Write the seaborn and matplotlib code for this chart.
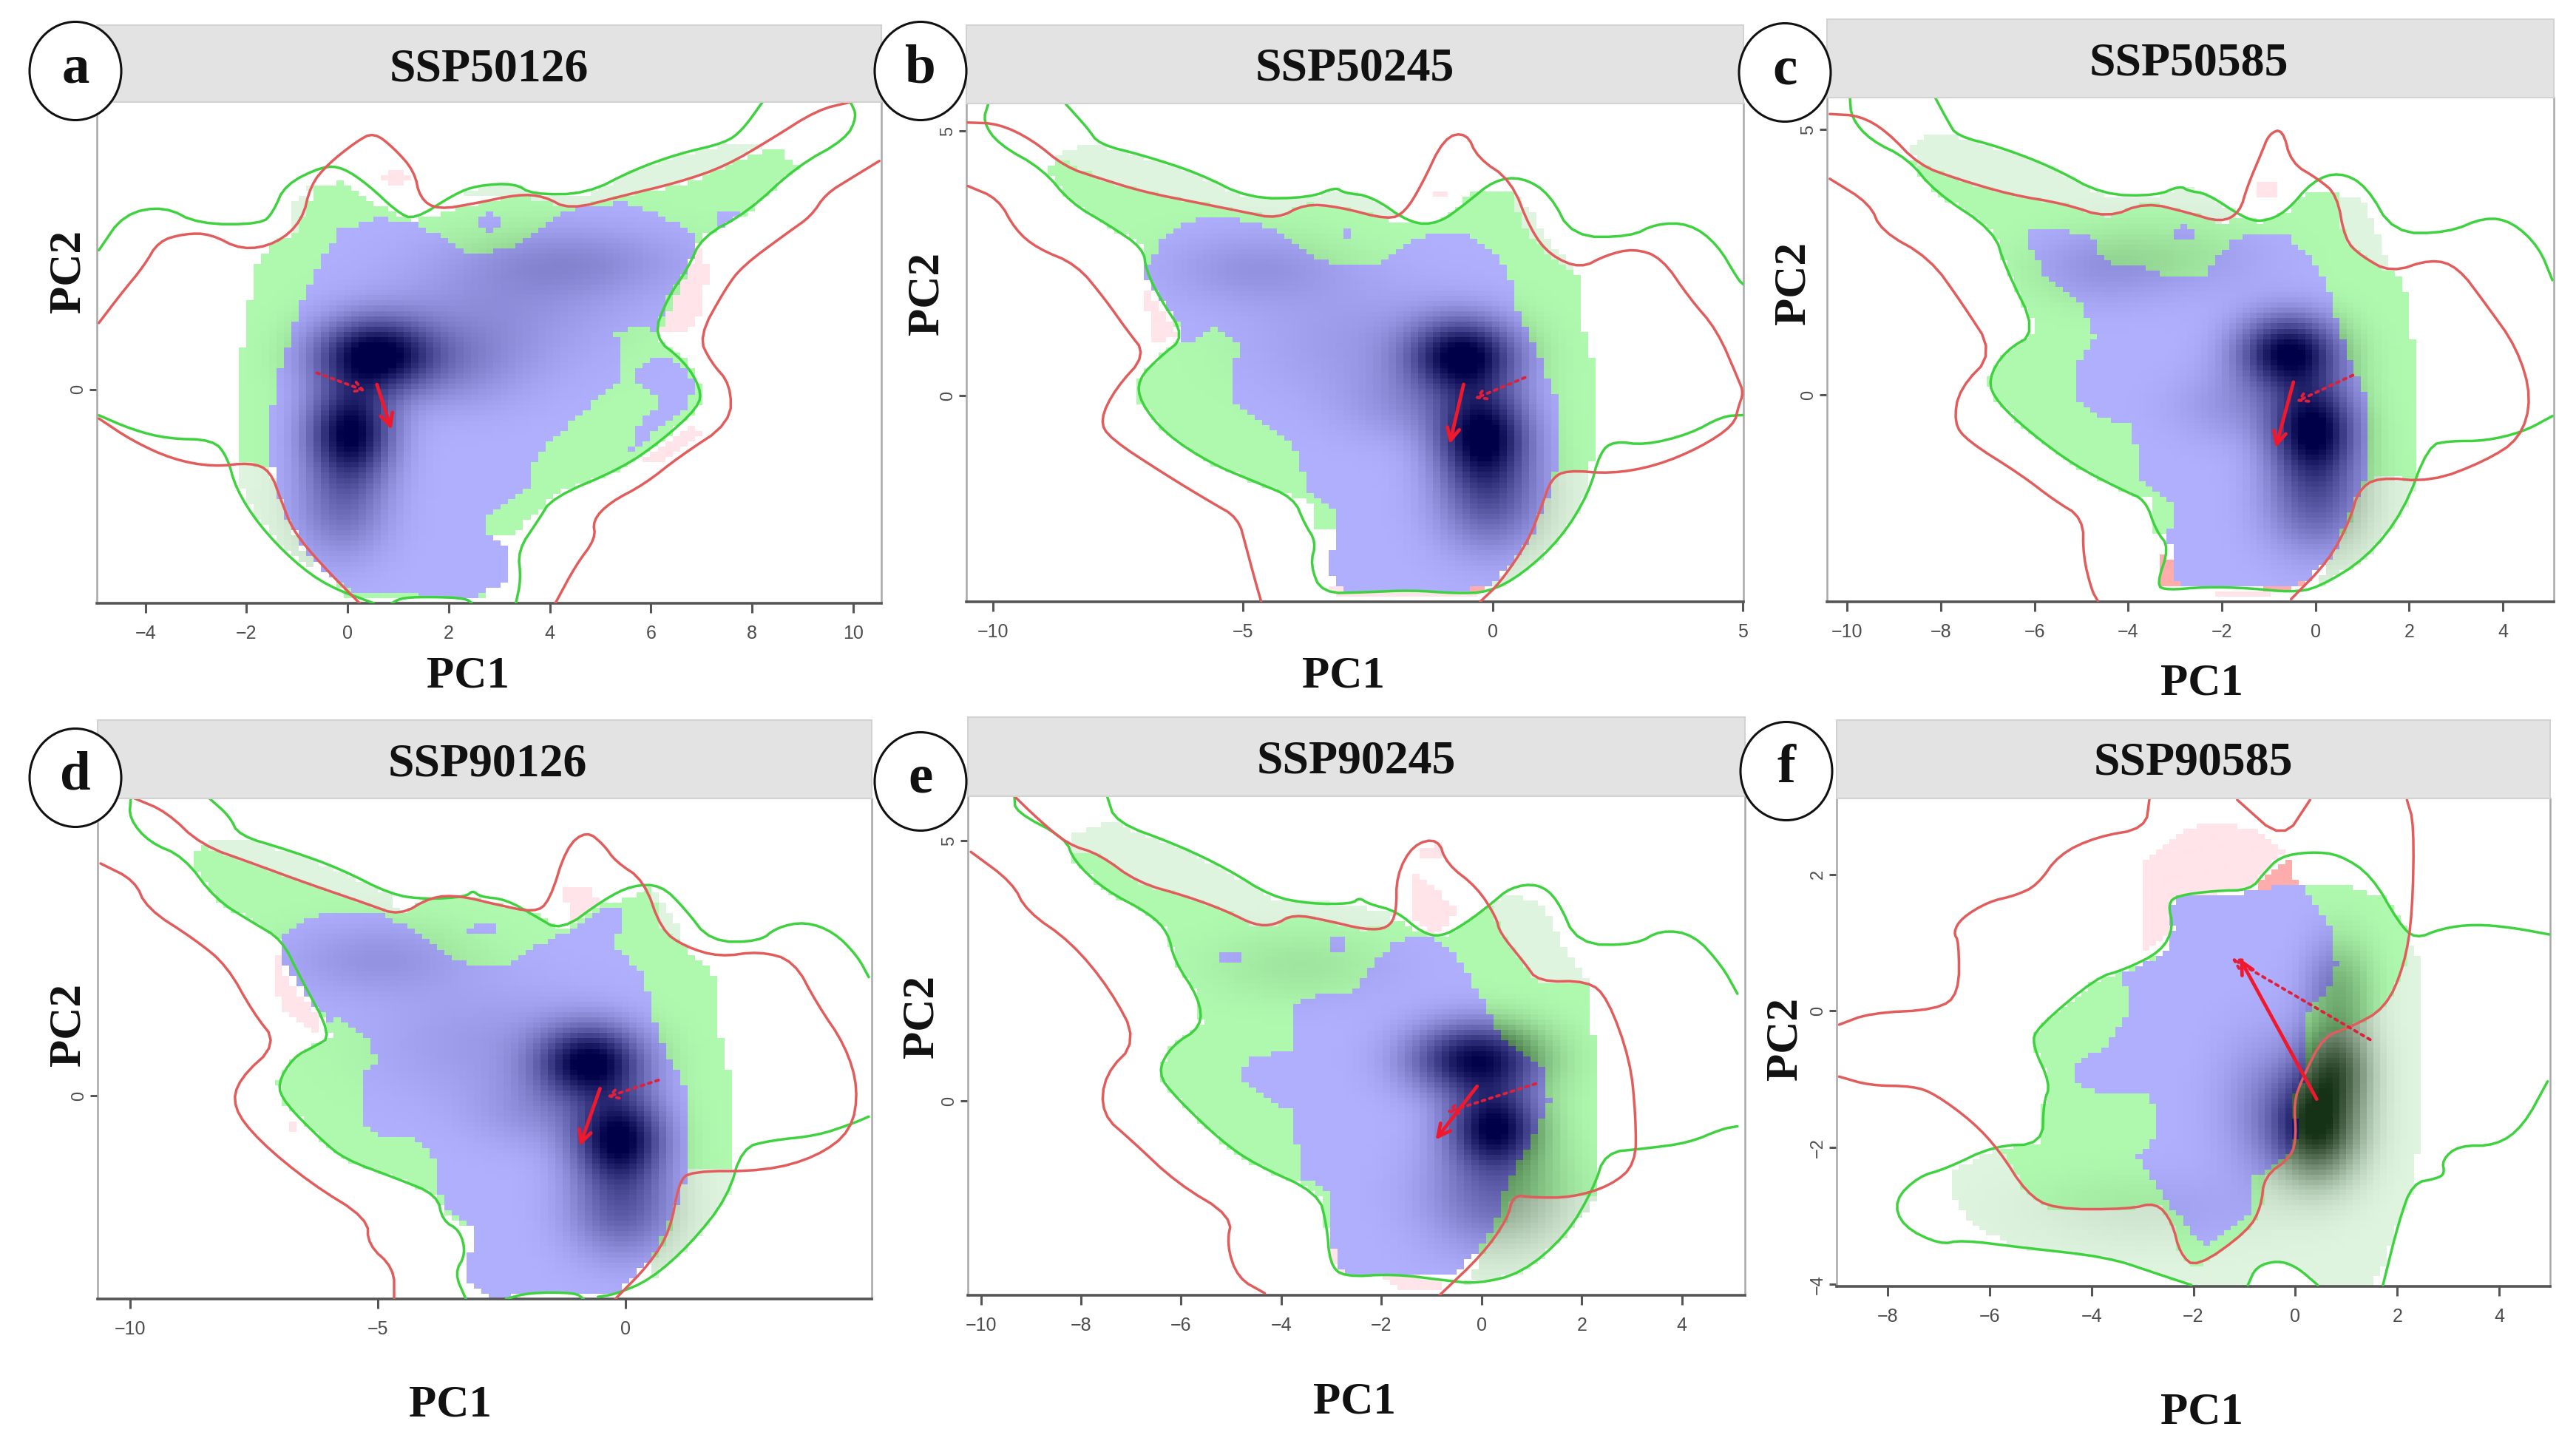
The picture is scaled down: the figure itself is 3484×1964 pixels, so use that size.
import numpy as np
import matplotlib
matplotlib.use("Agg")
import matplotlib.pyplot as plt
import seaborn as sns
from matplotlib.path import Path
from matplotlib.patches import Rectangle, Ellipse

sns.set_theme(style="white")
plt.rcParams['font.family'] = ['Liberation Serif', 'DejaVu Serif']

W, H = 3484, 1964

# --- values, PC1/PC2 units ---
titles = ["SSP50126", "SSP50245", "SSP50585", "SSP90126", "SSP90245", "SSP90585"]
letters = ["a", "b", "c", "d", "e", "f"]
xticks = [[-4, -2, 0, 2, 4, 6, 8, 10], [-10, -5, 0, 5], [-10, -8, -6, -4, -2, 0, 2, 4],
          [-10, -5, 0], [-10, -8, -6, -4, -2, 0, 2, 4], [-8, -6, -4, -2, 0, 2, 4]]
yticks = [[0], [0, 5], [0, 5], [0], [0, 5], [-4, -2, 0, 2]]
xlims = [(-4.96, 10.56), (-10.53, 5.02), (-10.43, 5.09), (-10.66, 4.98), (-10.26, 5.26), (-9.0, 5.0)]
ylims = [(-4.03, 5.41), (-3.90, 5.52), (-3.90, 5.60), (-3.84, 5.63), (-3.74, 5.86), (-4.03, 3.11)]

# panel a
a_green = [
    [(-4.92,2.62),(-4.43,3.30),(-3.63,3.45),(-2.95,3.11),(-1.70,3.11),(-1.47,3.34),(-1.24,3.85),(-0.50,4.20),(-0.10,4.18),(0.41,3.85),(0.98,3.34),(1.32,3.19),(2.12,3.68),(2.57,3.84),(3.31,3.88),(3.65,3.67),(4.73,3.68),(5.65,4.13),(6.56,4.44),(7.47,4.64),(7.81,4.88),(8.21,5.41)],
    [(9.95,5.41),(10.08,5.14),(9.86,4.71),(8.89,4.20),(7.92,3.34),(7.01,2.87),(6.73,2.27),(6.33,1.72),(6.04,0.99),(6.67,0.52),(6.99,0.01),(6.95,-0.33),(6.21,-0.97),(5.42,-1.49),(4.05,-2.04),(3.77,-2.47),(3.37,-3.03),(3.43,-3.58),(3.33,-4.03)],
    [(-4.92,-0.49),(-4.26,-0.76),(-3.57,-0.93),(-2.66,-0.95),(-2.38,-1.27),(-2.21,-1.87),(-1.75,-2.56),(-1.07,-3.24),(-0.39,-3.71),(0.52,-4.03)],
    [(0.87,-4.03),(1.09,-3.92),(1.78,-3.91),(2.34,-3.94),(2.46,-4.03)],
]
a_red = [
    [(-4.92,1.25),(-4.48,1.80),(-4.03,2.32),(-3.74,2.79),(-3.23,2.93),(-2.72,2.93),(-2.09,2.62),(-1.41,2.74),(-0.90,3.17),(-0.73,3.85),(-0.39,4.24),(0.18,4.67),(0.52,4.84),(0.92,4.54),(1.32,4.11),(1.43,3.60),(1.78,3.38),(2.57,3.51),(3.37,3.67),(3.88,3.64),(4.39,3.38),(5.42,3.64),(6.56,3.90),(7.47,4.20),(8.38,4.71),(9.29,5.26),(9.95,5.41)],
    [(10.52,4.30),(9.97,3.98),(9.46,3.68),(9.17,3.26),(8.72,2.96),(7.81,2.32),(7.47,1.89),(6.95,0.99),(7.18,0.52),(7.58,0.09),(7.58,-0.63),(6.56,-1.27),(5.87,-1.79),(5.19,-2.13),(4.85,-2.47),(4.91,-2.81),(4.51,-3.32),(4.11,-4.03)],
    [(-4.92,-0.55),(-4.26,-0.97),(-3.46,-1.32),(-2.66,-1.46),(-1.92,-1.38),(-1.53,-1.53),(-1.30,-2.13),(-1.07,-2.68),(-0.50,-3.32),(0.24,-4.03)],
]
a_fill_green = [[(-2.15,-1.36),(-2.15,0.56),(-1.98,1.12),(-1.87,2.23),(-1.53,2.74),(-1.07,2.91),(-0.79,3.43),(-0.61,3.85),(-0.05,3.90),(0.52,3.51),(1.26,3.17),(2.12,3.38),(3.37,3.67),(4.39,3.41),(5.65,3.67),(6.78,3.90),(7.81,4.37),(8.49,4.58),(8.89,4.20),(7.92,3.34),(7.01,2.87),(6.10,0.99),(6.78,0.44),(6.99,0.01),(6.95,-0.33),(6.21,-0.97),(5.42,-1.49),(4.05,-2.00),(3.77,-2.30),(3.26,-2.73),(2.80,-2.73),(2.80,-3.92),(-0.05,-3.92),(-1.41,-1.53)]]
a_fill_pale = [
    [(-2.15,-1.36),(-1.92,-1.38),(-1.53,-1.53),(-1.30,-2.13),(-0.95,-2.95),(-0.50,-3.42),(-1.12,-3.14),(-1.75,-2.48),(-2.10,-1.87)],
    [(2.12,3.64),(2.57,3.81),(3.31,3.85),(3.65,3.64),(4.73,3.67),(5.65,4.11),(6.56,4.41),(7.47,4.62),(8.26,4.64),(7.47,4.20),(6.56,3.90),(5.42,3.64),(4.39,3.41),(3.37,3.67)],
    [(-1.07,3.51),(-0.73,3.85),(-0.79,3.43),(-1.07,2.91)],
]
a_fill_blue = [
    [(-1.53,-1.36),(-1.53,-0.59),(-1.41,0.26),(-1.24,0.69),(-0.84,1.80),(-0.50,2.49),(-0.16,3.00),(0.52,3.21),(1.32,3.17),(2.34,2.57),(3.14,2.62),(4.39,3.38),(5.42,3.51),(6.21,3.26),(6.95,2.87),(6.73,2.32),(6.33,1.72),(6.10,1.12),(5.65,1.16),(5.28,1.08),(5.47,0.26),(4.96,-0.16),(4.05,-0.93),(3.60,-1.44),(3.54,-1.87),(2.80,-2.38),(2.80,-2.73),(3.12,-2.98),(3.12,-3.58),(2.57,-3.92),(0.18,-3.84),(-0.67,-3.24),(-1.30,-2.30),(-1.43,-1.53)],
    [(5.59,0.26),(6.10,0.65),(6.56,0.52),(6.84,0.09),(6.67,-0.42),(5.99,-0.85),(5.47,-1.36),(5.76,-0.68),(6.21,-0.16)],
    [(2.52,3.13),(2.80,3.30),(3.12,3.13),(2.80,2.93)],
    [(7.30,3.26),(7.58,3.41),(7.81,3.34),(7.35,3.04)],
]
a_fill_pink = [
    [(0.64,3.98),(0.92,4.15),(1.23,3.98),(0.92,3.81)],
    [(6.95,2.66),(7.13,2.23),(7.01,1.46),(6.67,1.08),(6.10,1.03),(6.44,1.72),(6.78,2.32)],
    [(6.90,-0.59),(6.95,-0.85),(6.21,-1.36),(5.76,-1.44),(6.33,-0.97)],
    [(0.18,-3.75),(0.98,-3.88),(0.18,-3.92)],
]
a_fill_rose = []
a_core = [(0.5,0.65,1.0,0.75,0.5),(0.05,-0.8,1.0,0.55,0.65),(-0.1,-2.2,0.35,0.6,0.7),(4.5,2.4,0.2,1.4,0.5),(3.0,1.5,0.15,1.5,0.8),(2.0,0.5,0.22,1.0,0.6)]
a_solid = [(0.58,0.09),(0.87,-0.76)]
a_dotted = [(-0.61,0.31),(0.35,-0.03)]

# panel b
b_green = [
    [(-8.55,5.52),(-8.10,5.05),(-7.88,4.75),(-6.99,4.54),(-5.88,4.20),(-4.87,3.72),(-3.65,3.74),(-3.14,3.94),(-2.98,3.83),(-2.42,3.77),(-1.64,3.25),(-1.08,3.25),(-0.52,3.64),(0.03,4.07),(0.59,4.13),(1.15,3.81),(1.59,3.00),(2.76,3.00),(3.27,3.25),(3.94,3.25),(4.49,2.87),(4.92,2.18),(5.02,2.10)],
    [(-10.09,5.52),(-10.20,5.18),(-9.89,4.75),(-9.00,4.28),(-8.44,3.64),(-7.66,3.21),(-6.99,2.78),(-6.93,2.36),(-6.66,1.84),(-6.15,1.11),(-6.66,0.73),(-7.10,0.30),(-7.05,-0.13),(-6.54,-0.73),(-5.65,-1.28),(-4.76,-1.63),(-3.98,-1.93),(-3.76,-2.43),(-3.53,-2.77),(-3.65,-3.20),(-3.42,-3.74),(-2.53,-3.72),(-1.64,-3.68),(-0.75,-3.74),(-0.08,-3.72),(0.59,-3.38),(1.37,-2.70),(1.93,-1.84),(2.15,-1.07),(2.43,-0.86),(3.04,-0.94),(3.94,-0.73),(4.60,-0.39),(5.02,-0.37)],
]
b_red = [
    [(-10.50,5.16),(-9.89,5.14),(-9.22,4.84),(-8.55,4.32),(-7.88,4.11),(-6.99,3.85),(-5.88,3.64),(-4.98,3.47),(-4.31,3.34),(-3.76,3.62),(-3.09,3.57),(-2.08,3.32),(-1.75,3.47),(-1.42,3.98),(-0.97,4.88),(-0.52,4.97),(-0.30,4.49),(0.37,4.07),(0.76,3.13),(1.15,2.65),(1.76,2.40),(2.26,2.65),(2.82,2.78),(3.38,2.61),(3.94,1.84),(4.49,1.24),(4.92,0.30),(5.02,0.05),(4.92,-0.21),(4.83,-0.56),(4.16,-0.98),(3.27,-1.33),(2.37,-1.48),(1.48,-1.41),(1.17,-1.58),(0.98,-2.10),(0.70,-2.78),(0.14,-3.55),(-0.25,-3.90)],
    [(-10.50,3.96),(-9.89,3.72),(-9.55,3.13),(-9.11,2.78),(-8.33,2.48),(-7.77,1.84),(-7.32,1.24),(-6.93,0.77),(-7.55,0.13),(-7.86,-0.47),(-7.66,-0.81),(-6.54,-1.50),(-5.65,-2.01),(-5.09,-2.31),(-4.93,-2.87),(-4.76,-3.47),(-4.63,-3.90)],
]
b_fill_green = [[(-8.94,4.28),(-8.72,4.49),(-7.88,4.11),(-6.99,3.85),(-5.88,3.64),(-4.31,3.34),(-3.76,3.62),(-3.09,3.57),(-2.08,3.32),(-1.64,3.25),(-1.08,3.25),(-0.41,3.81),(0.37,3.85),(0.54,3.38),(0.76,2.95),(1.26,2.61),(1.73,2.27),(1.76,1.33),(1.93,0.98),(2.04,0.39),(2.04,-1.07),(1.93,-1.41),(1.26,-1.46),(0.98,-2.10),(0.70,-2.78),(-3.09,-2.53),(-3.53,-2.48),(-3.59,-2.10),(-3.98,-1.88),(-4.76,-1.63),(-5.65,-1.28),(-6.54,-0.73),(-7.05,-0.13),(-7.10,0.30),(-6.66,0.73),(-6.15,1.11),(-6.66,1.84),(-6.93,2.36),(-6.99,2.83),(-7.66,3.21),(-8.44,3.69)]]
b_fill_pale = [
    [(-8.72,4.49),(-8.50,4.68),(-7.88,4.71),(-6.99,4.51),(-5.88,4.17),(-4.87,3.71),(-3.65,3.72),(-3.09,3.90),(-2.42,3.75),(-1.70,3.32),(-2.08,3.32),(-3.09,3.57),(-3.76,3.62),(-4.31,3.34),(-5.88,3.64),(-6.99,3.85),(-7.88,4.11)],
    [(0.37,3.85),(0.70,3.55),(1.26,2.78),(1.73,2.27),(1.26,2.61),(0.76,2.95),(0.54,3.38)],
    [(1.26,-1.46),(1.93,-1.41),(1.93,-1.84),(1.37,-2.70),(0.59,-3.38),(-0.08,-3.72),(0.70,-2.78),(0.98,-2.10)],
]
b_fill_blue = [
    [(-6.93,2.44),(-6.66,2.87),(-6.32,3.21),(-5.76,3.36),(-4.87,3.30),(-4.31,3.13),(-3.53,2.57),(-2.87,2.44),(-2.31,2.44),(-1.64,2.91),(-1.08,3.08),(-0.52,3.04),(0.03,2.70),(0.31,2.35),(0.48,1.67),(0.81,0.98),(1.26,-0.04),(1.26,-1.41),(1.09,-1.93),(0.76,-2.70),(0.03,-3.55),(-0.52,-3.68),(-2.87,-3.71),(-3.26,-3.38),(-3.09,-2.18),(-3.70,-1.84),(-3.87,-1.07),(-4.31,-0.68),(-5.26,-0.13),(-5.26,0.47),(-4.96,0.90),(-5.52,1.28),(-6.15,0.94),(-6.21,1.33),(-6.66,1.84),(-6.93,2.18)],
    [(-3.03,3.08),(-2.81,3.17),(-2.78,2.91),(-2.98,2.95)],
]
b_fill_pink = [
    [(-6.99,2.14),(-6.77,1.84),(-6.27,1.16),(-6.77,0.98),(-6.93,1.67)],
    [(-1.19,3.85),(-0.91,3.85),(-0.91,3.77),(-1.19,3.77)],
    [(-3.26,-3.60),(-1.08,-3.64),(-0.19,-3.51),(-0.30,-3.77),(-3.09,-3.85)],
]
b_fill_rose = [[(-1.08,-3.64),(-0.36,-3.51),(-0.08,-3.60),(-0.41,-3.74),(-1.08,-3.74)]]
b_core = [(-0.6,0.75,1.0,0.7,0.5),(-0.2,-0.75,1.0,0.6,0.65),(-0.05,-2.0,0.45,0.7,0.7),(-4.7,2.4,0.16,1.2,0.5),(-2.5,1.0,0.12,1.5,0.8),(-1.6,-0.2,0.16,0.9,0.5)]
b_solid = [(-0.58,0.21),(-0.86,-0.92)]
b_dotted = [(0.65,0.34),(-0.36,-0.06)]

# panel c
c_green = [
    [(-8.12,5.60),(-7.84,5.14),(-7.66,4.88),(-6.74,4.67),(-5.59,4.28),(-4.55,3.77),(-3.40,3.75),(-2.89,3.94),(-2.71,3.84),(-2.31,3.79),(-1.56,3.35),(-1.16,3.25),(-0.64,3.43),(-0.06,4.03),(0.51,4.20),(1.09,3.94),(1.66,3.05),(2.82,3.05),(3.62,3.35),(4.20,3.26),(4.77,2.79),(5.06,2.16)],
    [(-9.94,5.60),(-9.91,5.22),(-9.51,4.80),(-8.70,4.45),(-8.12,3.82),(-6.86,3.09),(-6.63,2.41),(-5.94,1.18),(-6.63,0.83),(-7.00,0.28),(-6.80,-0.14),(-6.05,-0.74),(-5.13,-1.34),(-4.09,-1.81),(-3.63,-1.98),(-3.40,-2.57),(-3.12,-2.87),(-3.40,-3.59),(-3.17,-3.68),(-2.37,-3.62),(-1.45,-3.64),(-0.52,-3.72),(0.05,-3.64),(1.09,-3.08),(1.89,-2.19),(2.41,-0.95),(2.87,-0.87),(3.62,-0.87),(4.43,-0.70),(5.06,-0.40)],
]
c_red = [
    [(-10.37,5.29),(-9.73,5.26),(-9.16,4.97),(-8.47,4.33),(-7.66,4.07),(-6.51,3.77),(-5.36,3.60),(-4.44,3.33),(-3.63,3.63),(-2.71,3.43),(-2.02,3.25),(-1.62,3.43),(-1.45,3.94),(-1.16,4.54),(-0.99,4.92),(-0.70,5.01),(-0.52,4.37),(0.05,4.07),(0.46,3.77),(0.63,2.92),(0.97,2.62),(1.61,2.30),(2.47,2.56),(3.04,2.41),(3.62,1.73),(4.31,0.88),(4.62,-0.06),(4.37,-0.83),(3.62,-1.25),(2.47,-1.64),(1.32,-1.55),(0.91,-1.81),(0.74,-2.36),(0.28,-3.13),(-0.52,-3.85)],
    [(-10.37,4.07),(-9.51,3.60),(-9.28,3.09),(-8.24,2.58),(-7.55,1.73),(-6.86,0.79),(-7.61,0.11),(-7.72,-0.53),(-7.43,-0.87),(-6.28,-1.51),(-5.59,-1.98),(-4.96,-2.32),(-4.96,-3.04),(-4.78,-3.68),(-4.65,-3.88)],
]
c_fill_green = [[(-8.70,4.41),(-8.47,4.33),(-7.66,4.07),(-6.51,3.77),(-5.36,3.60),(-4.44,3.33),(-3.63,3.63),(-2.71,3.43),(-2.02,3.25),(-1.56,3.33),(-1.16,3.25),(-0.64,3.43),(-0.29,3.77),(0.28,3.86),(0.46,3.77),(0.63,2.92),(0.97,2.62),(1.61,2.30),(1.84,2.24),(1.95,1.81),(2.13,0.54),(2.15,-1.59),(1.32,-1.55),(0.91,-1.81),(0.74,-2.36),(0.28,-3.13),(-3.00,-2.62),(-3.46,-2.57),(-3.46,-1.98),(-4.09,-1.81),(-5.13,-1.34),(-6.05,-0.74),(-6.80,-0.14),(-7.00,0.28),(-6.63,0.83),(-5.94,1.18),(-6.63,2.41),(-6.86,3.09),(-8.12,3.82)]]
c_fill_pale = [
    [(-8.70,4.63),(-8.24,4.92),(-7.66,4.86),(-6.74,4.64),(-5.59,4.27),(-4.55,3.76),(-3.40,3.73),(-2.89,3.93),(-2.31,3.77),(-1.67,3.42),(-2.02,3.25),(-2.71,3.43),(-3.63,3.63),(-4.44,3.33),(-5.36,3.60),(-6.51,3.77),(-7.66,4.07),(-8.47,4.33)],
    [(0.46,3.77),(0.97,3.69),(1.20,3.26),(1.43,2.75),(1.61,2.30),(0.97,2.62),(0.63,2.92)],
    [(1.32,-1.55),(2.15,-1.61),(1.89,-2.19),(1.09,-3.08),(0.05,-3.64),(0.28,-3.13),(0.74,-2.36),(0.91,-1.81)],
]
c_fill_blue = [
    [(-6.07,3.09),(-5.70,3.13),(-4.78,3.01),(-4.49,2.50),(-3.75,2.41),(-3.12,2.22),(-2.42,2.22),(-1.79,2.92),(-1.33,3.07),(-0.64,3.05),(0.05,2.41),(0.28,1.98),(0.46,1.39),(0.74,0.62),(1.06,0.03),(1.06,-1.51),(0.74,-2.19),(0.40,-2.96),(-0.24,-3.55),(-2.94,-3.62),(-3.15,-2.62),(-3.00,-2.15),(-3.58,-1.72),(-3.75,-1.59),(-3.92,-0.57),(-4.55,-0.44),(-5.15,-0.06),(-5.13,0.54),(-4.73,1.09),(-5.01,1.73),(-5.70,2.16),(-6.07,2.75)],
    [(-3.12,3.01),(-2.83,3.26),(-2.51,3.09),(-2.71,2.90)],
]
c_fill_pink = [
    [(-1.27,3.99),(-0.81,4.03),(-0.81,3.69),(-1.27,3.69)],
    [(-2.71,-3.68),(-0.64,-3.68),(-1.45,-3.85)],
]
c_fill_rose = [
    [(-3.29,-2.96),(-3.15,-2.96),(-2.94,-3.59),(-3.29,-3.59)],
    [(-0.81,-3.55),(-0.24,-3.55),(-0.52,-3.68),(-1.27,-3.68)],
]
c_core = [(-0.58,0.8,1.0,0.7,0.5),(-0.05,-0.65,1.0,0.6,0.65),(0.0,-2.0,0.45,0.7,0.7),(-4.6,2.4,0.14,1.0,0.5),(-2.8,2.6,0.1,1.2,0.5),(-1.6,-0.2,0.16,0.9,0.5)]
c_solid = [(-0.47,0.24),(-0.85,-1.0)]
c_dotted = [(0.80,0.37),(-0.41,-0.13)]

# panel d
d_green = [
    [(-8.40,5.63),(-7.99,5.29),(-7.81,4.93),(-6.83,4.66),(-5.78,4.31),(-4.73,3.81),(-4.03,3.72),(-3.22,3.77),(-3.08,3.89),(-2.93,3.77),(-2.41,3.72),(-1.83,3.41),(-1.30,3.12),(-0.43,3.72),(0.15,3.99),(0.73,3.99),(1.20,3.55),(1.72,2.92),(2.71,2.92),(3.06,3.19),(3.64,3.30),(4.22,3.10),(4.69,2.65),(4.92,2.25)],
    [(-9.99,5.63),(-10.02,5.25),(-9.62,4.80),(-8.92,4.53),(-8.28,3.72),(-7.52,3.28),(-6.94,2.96),(-6.59,2.29),(-5.92,1.13),(-6.30,0.93),(-6.71,0.73),(-7.03,0.23),(-6.88,-0.13),(-6.13,-0.84),(-5.66,-1.20),(-4.62,-1.56),(-3.80,-1.87),(-3.69,-2.36),(-3.34,-2.54),(-3.22,-2.99),(-3.45,-3.35),(-3.22,-3.84)],
    [(-2.41,-3.84),(-1.94,-3.72),(-1.01,-3.72),(-0.84,-3.84)],
    [(-0.55,-3.80),(-0.20,-3.75),(0.50,-3.48),(1.31,-2.81),(2.07,-1.92),(2.36,-0.98),(2.94,-0.84),(3.87,-0.75),(4.57,-0.53),(4.92,-0.39)],
]
d_red = [
    [(-9.91,5.63),(-9.27,5.38),(-8.57,4.75),(-7.52,4.40),(-6.48,4.04),(-5.20,3.63),(-4.56,3.41),(-3.92,3.77),(-3.34,3.79),(-2.64,3.63),(-1.83,3.47),(-1.53,3.68),(-1.19,4.71),(-0.78,5.02),(-0.43,4.75),(-0.20,4.44),(0.38,4.08),(0.73,3.14),(1.20,2.83),(1.90,2.63),(2.71,2.74),(3.41,2.56),(3.87,1.75),(4.45,0.95),(4.71,0.14),(4.57,-0.66),(3.87,-1.15),(2.83,-1.42),(1.31,-1.42),(1.08,-1.65),(0.91,-2.54),(0.50,-3.17),(-0.20,-3.84)],
    [(-10.60,4.40),(-9.91,4.08),(-9.67,3.55),(-8.69,2.96),(-8.05,2.47),(-7.52,1.58),(-7.02,0.99),(-7.81,0.32),(-7.93,-0.21),(-7.41,-0.84),(-6.36,-1.65),(-5.20,-2.32),(-5.20,-2.81),(-4.67,-3.26),(-4.67,-3.84)],
]
d_fill_green = [[(-8.80,4.53),(-8.57,4.75),(-7.52,4.40),(-6.48,4.04),(-5.20,3.63),(-4.56,3.41),(-3.92,3.77),(-3.34,3.79),(-2.64,3.63),(-1.83,3.47),(-1.30,3.12),(-0.43,3.63),(0.15,3.77),(0.50,3.95),(0.73,3.14),(1.20,2.83),(1.78,2.29),(1.90,1.22),(2.15,0.23),(2.19,-1.42),(1.31,-1.42),(1.08,-1.65),(0.91,-2.54),(0.50,-3.17),(-3.34,-2.45),(-3.69,-2.18),(-3.80,-1.87),(-4.62,-1.56),(-5.66,-1.20),(-6.13,-0.84),(-6.88,-0.13),(-7.03,0.23),(-6.71,0.73),(-5.92,1.13),(-6.59,2.29),(-6.94,2.96),(-8.28,3.72)]]
d_fill_pale = [
    [(-8.57,4.75),(-8.22,4.84),(-7.76,4.89),(-6.83,4.64),(-5.78,4.28),(-4.73,3.80),(-4.56,3.41),(-5.20,3.63),(-6.48,4.04),(-7.52,4.40)],
    [(0.50,3.95),(0.97,3.37),(1.20,2.83),(0.73,3.14)],
    [(1.31,-1.42),(2.19,-1.42),(2.07,-1.92),(1.31,-2.81),(0.50,-3.48),(0.50,-3.17),(0.91,-2.54),(1.08,-1.65)],
]
d_fill_blue = [
    [(-6.88,3.01),(-6.48,3.32),(-5.78,3.50),(-4.85,3.41),(-4.15,3.10),(-3.69,2.69),(-2.99,2.47),(-2.41,2.47),(-1.83,2.83),(-1.13,3.14),(-0.31,3.59),(-0.14,3.59),(-0.02,3.19),(-0.31,2.92),(0.27,2.38),(0.44,1.93),(0.62,1.22),(1.20,0.14),(1.26,-1.42),(0.97,-2.18),(0.50,-3.08),(-0.20,-3.75),(-2.76,-3.80),(-3.28,-3.44),(-2.99,-2.54),(-3.69,-2.05),(-3.80,-1.65),(-3.92,-1.02),(-4.38,-0.80),(-4.85,-0.80),(-5.34,-0.57),(-5.34,0.32),(-5.02,0.70),(-5.26,1.13),(-5.78,1.49),(-5.92,1.31),(-6.36,1.84),(-6.88,2.47)],
    [(-3.16,3.10),(-2.99,3.30),(-2.66,3.30),(-2.66,3.05)],
]
d_fill_pink = [
    [(-7.06,2.83),(-6.88,2.29),(-6.13,1.40),(-6.24,1.22),(-6.94,1.58),(-7.06,2.11)],
    [(-1.24,3.95),(-0.78,3.95),(-0.43,3.63),(-1.07,3.23),(-1.19,3.55)],
    [(-6.88,-0.44),(-6.65,-0.48),(-6.53,-0.57),(-6.71,-0.68)],
]
d_fill_rose = []
d_core = [(-0.72,0.64,1.0,0.7,0.5),(-0.14,-0.8,1.0,0.6,0.6),(-0.08,-2.15,0.45,0.7,0.65),(-5.0,2.6,0.16,1.2,0.5),(-2.8,1.0,0.12,1.5,0.8),(-1.7,-0.3,0.16,0.9,0.5)]
d_solid = [(-0.51,0.14),(-0.92,-0.95)]
d_dotted = [(0.67,0.30),(-0.37,-0.02)]

# panel e
e_green = [
    [(-7.48,5.86),(-7.31,5.36),(-6.09,4.93),(-5.09,4.47),(-4.20,3.93),(-3.42,3.79),(-2.59,3.79),(-2.44,3.91),(-2.26,3.79),(-1.70,3.65),(-1.20,3.24),(-0.81,3.15),(-0.31,3.42),(0.19,3.79),(0.58,4.11),(1.13,4.18),(1.52,3.88),(1.91,3.01),(3.08,3.00),(3.58,3.29),(4.24,3.20),(4.80,2.60),(5.11,2.06)],
    [(-9.33,5.86),(-9.31,5.56),(-8.31,5.06),(-8.14,4.61),(-7.53,4.06),(-6.64,3.61),(-6.26,3.24),(-6.14,2.70),(-5.64,1.97),(-5.59,1.42),(-6.20,1.06),(-6.48,0.53),(-6.09,0.05),(-5.20,-0.77),(-4.53,-1.22),(-3.26,-1.77),(-3.09,-2.40),(-3.03,-3.13),(-2.76,-3.39),(-1.76,-3.33),(-0.76,-3.45),(-0.09,-3.52),(0.80,-3.32),(1.69,-2.59),(2.24,-1.68),(2.47,-0.99),(3.24,-0.92),(4.13,-0.81),(4.80,-0.54),(5.11,-0.49)],
]
e_red = [
    [(-9.33,5.86),(-8.87,5.43),(-8.26,4.93),(-7.64,4.75),(-6.87,4.20),(-5.87,3.93),(-5.09,3.65),(-4.53,3.38),(-4.14,3.38),(-3.76,3.59),(-3.09,3.47),(-2.31,3.29),(-1.87,3.32),(-1.70,3.61),(-1.70,4.34),(-1.37,4.93),(-0.87,5.05),(-0.70,4.56),(-0.09,4.11),(0.30,3.52),(0.36,3.24),(0.86,2.65),(1.13,2.29),(2.13,2.31),(2.52,1.97),(2.97,0.78),(3.08,-0.31),(3.08,-1.22),(2.58,-1.63),(1.80,-1.86),(1.02,-1.86),(0.63,-1.81),(0.52,-2.27),(0.02,-2.95),(-0.84,-3.74)],
    [(-10.20,4.79),(-9.37,4.20),(-9.09,3.65),(-8.20,3.06),(-7.42,2.15),(-6.87,1.15),(-7.53,0.51),(-7.59,-0.26),(-6.98,-0.77),(-6.09,-1.58),(-4.98,-2.22),(-5.09,-2.77),(-4.87,-3.41),(-4.33,-3.70)],
]
e_fill_green = [[(-8.14,4.79),(-7.64,4.75),(-6.87,4.20),(-5.87,3.93),(-5.09,3.65),(-4.53,3.38),(-4.14,3.38),(-3.76,3.59),(-3.09,3.47),(-2.31,3.29),(-1.70,3.47),(-1.20,3.24),(-0.81,3.15),(-0.31,3.42),(0.24,3.83),(0.30,3.52),(0.36,3.24),(0.86,2.65),(1.13,2.29),(2.13,2.26),(2.16,1.33),(2.28,1.24),(2.28,-1.86),(1.02,-1.86),(0.63,-1.81),(0.52,-2.27),(0.02,-2.95),(-2.98,-2.50),(-3.09,-2.40),(-3.26,-1.77),(-4.53,-1.22),(-5.20,-0.77),(-6.09,0.05),(-6.48,0.53),(-6.20,1.06),(-5.59,1.42),(-5.64,1.97),(-6.14,2.70),(-6.26,3.24),(-6.64,3.61),(-7.53,4.06),(-8.14,4.61)]]
e_fill_pale = [
    [(-8.26,5.11),(-7.64,5.31),(-7.31,5.34),(-6.09,4.90),(-5.09,4.44),(-4.20,3.90),(-2.59,3.77),(-1.70,3.62),(-1.87,3.32),(-2.31,3.29),(-3.09,3.47),(-3.76,3.59),(-4.14,3.38),(-4.53,3.38),(-5.09,3.65),(-5.87,3.93),(-6.87,4.20),(-7.64,4.75),(-8.14,4.79)],
    [(0.24,3.83),(0.69,4.01),(1.30,3.70),(1.63,2.97),(2.13,2.26),(1.13,2.29),(0.86,2.65),(0.36,3.24),(0.30,3.52)],
    [(0.63,-1.81),(2.28,-1.86),(1.69,-2.59),(0.80,-3.32),(-0.31,-3.50),(0.02,-2.95),(0.52,-2.27)],
]
e_fill_blue = [
    [(-3.76,1.88),(-3.09,2.09),(-2.53,2.09),(-2.20,2.60),(-1.76,3.06),(-1.20,3.20),(-0.64,2.92),(-0.20,2.33),(0.13,1.69),(0.36,1.24),(1.19,0.65),(1.36,0.01),(1.02,-0.67),(0.58,-1.49),(0.41,-1.86),(0.24,-2.50),(-0.53,-3.32),(-2.76,-3.36),(-2.98,-2.68),(-2.98,-1.77),(-3.59,-1.49),(-3.76,-0.22),(-4.31,0.05),(-4.84,0.46),(-4.64,0.83),(-3.76,1.01)],
    [(-5.29,2.79),(-4.76,2.88),(-4.70,2.74),(-5.09,2.62)],
    [(-3.11,3.06),(-2.76,3.20),(-2.70,2.97),(-2.92,2.81)],
]
e_fill_pink = [
    [(-1.37,4.34),(-1.03,4.20),(-0.48,3.61),(-0.98,3.15),(-1.42,3.61)],
    [(-1.31,4.79),(-0.87,4.97),(-0.87,4.65),(-1.09,4.61)],
    [(-1.98,-3.36),(-0.76,-3.41),(-0.87,-3.63),(-1.64,-3.63)],
    [(-3.03,-2.50),(-2.76,-3.36),(-2.98,-3.13)],
]
e_fill_rose = []
e_core = [(-0.1,0.8,0.95,0.85,0.5),(0.25,-0.5,0.95,0.6,0.55),(0.3,-1.8,0.4,0.9,0.75),(-3.6,2.6,0.1,1.2,0.5)]
e_solid = [(-0.09,0.28),(-0.92,-0.75)]
e_dotted = [(1.08,0.33),(-0.70,-0.22)]

# panel f
f_green = [
    [(4.98,1.12),(4.26,1.22),(3.52,1.27),(2.88,1.21),(2.35,1.05),(2.03,1.29),(1.50,1.98),(0.87,2.29),(0.29,2.33),(-0.30,2.26),(-0.61,2.02),(-0.88,1.77),(-1.57,1.76),(-2.31,1.69),(-2.50,1.57),(-2.39,1.22),(-2.63,0.87),(-3.37,0.60),(-3.90,0.49),(-5.06,-0.24),(-5.17,-0.48),(-4.80,-1.07),(-4.94,-1.34),(-4.96,-1.95),(-5.91,-1.97),(-6.86,-2.31),(-7.39,-2.42),(-7.87,-2.77),(-7.71,-3.15),(-6.97,-3.42),(-6.55,-3.35),(-5.38,-3.46),(-3.69,-3.60),(-2.73,-3.84),(-2.04,-4.01)],
    [(-0.93,-4.01),(-0.77,-3.74),(-0.35,-3.65),(0.02,-3.74),(0.44,-4.01)],
    [(1.72,-4.01),(2.03,-3.08),(2.30,-2.52),(2.78,-2.45),(2.93,-2.38),(2.88,-2.18),(3.20,-1.97),(3.94,-1.97),(4.47,-1.69),(4.95,-1.03)],
]
f_red = [
    [(-8.95,-0.20),(-8.35,-0.03),(-7.02,0.02),(-6.60,0.25),(-6.60,1.01),(-6.71,1.15),(-6.55,1.36),(-6.02,1.60),(-5.49,1.69),(-5.06,1.84),(-4.64,2.29),(-3.90,2.55),(-2.94,2.67),(-2.86,3.11)],
    [(-1.14,3.09),(-0.24,2.49),(0.29,3.09)],
    [(2.19,3.09),(2.33,2.74),(2.30,1.43),(2.14,0.67),(1.77,0.04),(1.08,-0.24),(0.55,-0.37),(0.13,-1.00),(-0.03,-1.34),(0.02,-1.83),(-0.08,-2.14),(-0.61,-2.42),(-0.67,-2.87),(-0.93,-3.22),(-1.94,-3.76),(-2.26,-3.56),(-2.42,-3.08),(-2.73,-2.80),(-3.26,-2.90),(-4.75,-2.90),(-5.28,-2.66),(-5.81,-2.04),(-6.33,-1.62),(-7.08,-1.21),(-7.50,-1.10),(-8.35,-1.09),(-8.95,-0.96)],
]
f_fill_green = [[(-3.42,0.56),(-3.90,0.46),(-5.04,-0.24),(-5.15,-0.48),(-4.80,-1.07),(-4.94,-1.34),(-4.96,-1.95),(-5.81,-2.00),(-5.28,-2.66),(-4.75,-2.90),(-3.26,-2.90),(-2.73,-2.80),(-2.42,-3.08),(-2.26,-3.56),(-1.94,-3.76),(-0.93,-3.22),(-0.67,-2.87),(-0.61,-2.42),(-0.08,-2.14),(0.02,-1.83),(-0.03,-1.34),(0.13,-1.00),(0.55,-0.37),(1.08,-0.24),(1.77,0.04),(2.14,0.67),(2.19,1.19),(1.77,1.67),(1.08,1.81),(0.13,1.83)]]
f_fill_pale = [[(-6.76,-2.59),(-6.76,-2.35),(-5.81,-2.00),(-5.28,-2.66),(-4.75,-2.90),(-3.26,-2.90),(-2.73,-2.80),(-2.42,-3.08),(-2.26,-3.56),(-1.94,-3.76),(-0.93,-3.22),(-0.67,-2.87),(-0.61,-2.42),(-0.08,-2.14),(0.02,-1.83),(-0.03,-1.34),(0.13,-1.00),(0.55,-0.37),(1.08,-0.24),(1.77,0.04),(2.14,0.67),(2.19,1.08),(2.46,0.73),(2.48,-2.04),(2.35,-2.11),(2.35,-2.52),(2.03,-3.08),(1.72,-3.77),(1.50,-4.01),(0.44,-4.01),(0.02,-3.74),(-0.35,-3.65),(-0.77,-3.74),(-0.93,-4.01),(-2.04,-4.01),(-2.73,-3.84),(-3.69,-3.60),(-5.38,-3.46),(-6.02,-3.28),(-6.55,-2.94)]]
f_fill_blue = [[(-3.37,0.53),(-2.52,0.87),(-2.39,1.22),(-2.47,1.50),(-2.31,1.67),(-0.88,1.74),(-0.51,1.81),(0.13,1.83),(0.66,1.29),(0.82,0.67),(0.66,0.32),(0.23,-0.03),(0.23,-0.93),(-0.03,-1.28),(0.02,-1.83),(-0.08,-2.11),(-0.88,-2.45),(-0.88,-2.94),(-1.78,-3.46),(-1.99,-3.28),(-2.42,-2.87),(-2.73,-2.52),(-3.10,-2.11),(-2.68,-1.83),(-2.84,-1.21),(-3.90,-1.17),(-4.37,-1.03),(-4.37,-0.76),(-3.69,-0.51),(-3.26,-0.03)]]
f_fill_pink = [[(-2.94,2.19),(-2.31,2.61),(-1.57,2.78),(-0.72,2.64),(-0.24,2.33),(-0.61,2.02),(-0.88,1.77),(-2.31,1.69),(-2.50,1.57),(-2.39,1.22),(-2.94,0.87)]]
f_fill_rose = [[(-0.77,1.79),(-0.51,2.05),(-0.08,2.20),(0.02,1.83)]]
f_core = [(0.45,-1.7,0.92,0.56,0.56),(0.8,-0.8,0.62,0.46,0.46),(0.85,0.3,0.34,0.44,0.55),(-0.5,-1.4,0.22,0.65,0.75),(-3.0,-2.9,0.08,1.5,0.4)]
f_solid = [(0.42,-1.29),(-1.09,0.77)]
f_dotted = [(1.47,-0.42),(-1.25,0.77)]

# --- layout in pixels of the final picture ---
axes_box = [(131, 1192, 138, 816), (1307, 2358, 140, 814), (2471, 3454, 132, 814),
            (132, 1179, 1080, 1757), (1309, 2360, 1077, 1752), (2484, 3449, 1080, 1740)]
strip_top = [34, 34, 26, 974, 970, 974]
title_pos = [(661, 94), (1832, 93), (2960, 86), (659, 1035), (1834, 1031), (2966, 1033)]
pc1_pos = [(633, 915), (1817, 915), (2978, 924), (609, 1901), (1832, 1896), (2978, 1910)]
pc2_pos = [(92, 367), (1253, 397), (2425, 383), (92, 1386), (1246, 1375), (2414, 1405)]
badge_pos = [(102, 96), (1245, 96), (2414, 98), (102, 1052), (1245, 1057), (2416, 1043)]

panels = [
    (a_green, a_red, a_fill_green, a_fill_pale, a_fill_blue, a_fill_pink, a_fill_rose, a_core, a_solid, a_dotted),
    (b_green, b_red, b_fill_green, b_fill_pale, b_fill_blue, b_fill_pink, b_fill_rose, b_core, b_solid, b_dotted),
    (c_green, c_red, c_fill_green, c_fill_pale, c_fill_blue, c_fill_pink, c_fill_rose, c_core, c_solid, c_dotted),
    (d_green, d_red, d_fill_green, d_fill_pale, d_fill_blue, d_fill_pink, d_fill_rose, d_core, d_solid, d_dotted),
    (e_green, e_red, e_fill_green, e_fill_pale, e_fill_blue, e_fill_pink, e_fill_rose, e_core, e_solid, e_dotted),
    (f_green, f_red, f_fill_green, f_fill_pale, f_fill_blue, f_fill_pink, f_fill_rose, f_core, f_solid, f_dotted),
]

GREEN_LINE = '#3fd23f'
RED_LINE = '#e25c5c'
ARROW = '#f0182c'


def cell_mask(polys, pts, shape):
    mask = np.zeros(shape, dtype=bool)
    for poly in polys:
        mask |= Path(poly).contains_points(pts).reshape(shape)
    return mask


def density(core, X, Y):
    d = np.zeros_like(X)
    for cx, cy, w, sx, sy in core:
        d += w * np.exp(-0.5 * ((X - cx) / (1.05 * sx)) ** 2 - 0.5 * ((Y - cy) / (0.95 * sy)) ** 2)
    return np.clip(d, 0, 1)[..., None]


def rounded(line, passes=2):
    # contours were traced corner to corner, cut the corners so they read as curves
    pts = np.array(line, dtype=float)
    for _ in range(passes):
        q = 0.75 * pts[:-1] + 0.25 * pts[1:]
        r = 0.25 * pts[:-1] + 0.75 * pts[1:]
        mid = np.empty((2 * len(q), 2))
        mid[0::2] = q
        mid[1::2] = r
        pts = np.vstack([pts[0], mid, pts[-1]])
    return pts


def draw_niche(ax, panel, xlim, ylim):
    fill_green, fill_pale, fill_blue, fill_pink, fill_rose, core = panel[2:8]
    # coarse cells, like the R image() grid behind the niche plot
    nx, ny = 105, 96
    xe = np.linspace(*xlim, nx + 1)
    ye = np.linspace(*ylim, ny + 1)
    X, Y = np.meshgrid((xe[:-1] + xe[1:]) / 2, (ye[:-1] + ye[1:]) / 2)
    pts = np.column_stack([X.ravel(), Y.ravel()])
    d = density(core, X, Y)
    rgb = np.ones((ny, nx, 3))

    layers = [
        (fill_pink, (255, 228, 233), (255, 228, 233)),
        (fill_rose, (255, 172, 172), (255, 172, 172)),
        (fill_pale, (224, 245, 224), (22, 50, 22)),
        (fill_green, (176, 250, 176), (14, 48, 14)),
        (fill_blue, (176, 176, 255), (0, 0, 72)),
    ]
    for polys, light, dark in layers:
        if not polys:
            continue
        mask = cell_mask(polys, pts, X.shape)
        shade = np.array(light) / 255 * (1 - d) + np.array(dark) / 255 * d
        rgb[mask] = shade[mask]
    ax.imshow(rgb, origin='lower', extent=(*xlim, *ylim), aspect='auto', interpolation='nearest', zorder=1)


fig = plt.figure(figsize=(W / 100, H / 100), dpi=100, facecolor='white')

for i, panel in enumerate(panels):
    l, r, t, b = axes_box[i]
    ax = fig.add_axes([l / W, 1 - b / H, (r - l) / W, (b - t) / H])
    draw_niche(ax, panel, xlims[i], ylims[i])

    for line in panel[0]:
        pts = rounded(line)
        sns.lineplot(x=pts[:, 0], y=pts[:, 1], sort=False, estimator=None, color=GREEN_LINE, lw=2.5, ax=ax, legend=False, zorder=3)
    for line in panel[1]:
        pts = rounded(line)
        sns.lineplot(x=pts[:, 0], y=pts[:, 1], sort=False, estimator=None, color=RED_LINE, lw=2.5, ax=ax, legend=False, zorder=4)

    ax.annotate('', xy=panel[8][1], xytext=panel[8][0], zorder=6,
                arrowprops=dict(arrowstyle='->,head_length=1.0,head_width=0.5', color=ARROW, lw=3.4, shrinkA=0, shrinkB=0))
    ax.annotate('', xy=panel[9][1], xytext=panel[9][0], zorder=5,
                arrowprops=dict(arrowstyle='->,head_length=0.7,head_width=0.4', color='#e0203a', lw=2.8, ls=':', shrinkA=0, shrinkB=0))

    ax.set_xlim(*xlims[i])
    ax.set_ylim(*ylims[i])
    ax.set_xticks(xticks[i])
    ax.set_yticks(yticks[i])
    ax.set_xticklabels([str(v).replace('-', '\u2212') for v in xticks[i]], family='Liberation Sans', fontsize=18, color='#4d4d4d')
    ax.set_yticklabels([str(v).replace('-', '\u2212') for v in yticks[i]], family='Liberation Sans', fontsize=17, color='#4d4d4d',
                       rotation=90, va='center')
    ax.tick_params(axis='x', length=9, width=2.2, color='#555555', pad=12, bottom=True)
    ax.tick_params(axis='y', length=7, width=2.2, color='#555555', pad=3, left=True)
    for side in ['left', 'right', 'top']:
        ax.spines[side].set_color('#a8a8a8')
        ax.spines[side].set_linewidth(1.8)
    ax.spines['top'].set_visible(False)
    ax.spines['bottom'].set_color('#555555')
    ax.spines['bottom'].set_linewidth(2.6)

# strips, badges and axis titles sit on a full-size overlay
over = fig.add_axes([0, 0, 1, 1], zorder=10)
over.set_xlim(0, W)
over.set_ylim(H, 0)
over.axis('off')
over.patch.set_alpha(0)

for i in range(6):
    l, r, t, b = axes_box[i]
    over.add_patch(Rectangle((l, strip_top[i]), r - l, t - strip_top[i], fc='#e3e3e3', ec='#d2d2d2', lw=1.5, zorder=1))
    over.text(*title_pos[i], titles[i], fontsize=46, fontweight='bold', ha='center', va='center', color='#111111', zorder=2)
    over.text(*pc1_pos[i], 'PC1', fontsize=44, fontweight='bold', ha='center', va='center', color='#111111', zorder=2)
    over.text(*pc2_pos[i], 'PC2', fontsize=44, fontweight='bold', ha='center', va='center', rotation=90, color='#111111', zorder=2)
    over.add_patch(Ellipse(badge_pos[i], 124, 133, fc='white', ec='#111111', lw=2.2, zorder=3))
    over.text(badge_pos[i][0], badge_pos[i][1] - 3, letters[i], fontsize=54, fontweight='bold', ha='center', va='center', color='#111111', zorder=4)

fig.savefig('out.png', dpi=100, facecolor='white')
plt.close(fig)
